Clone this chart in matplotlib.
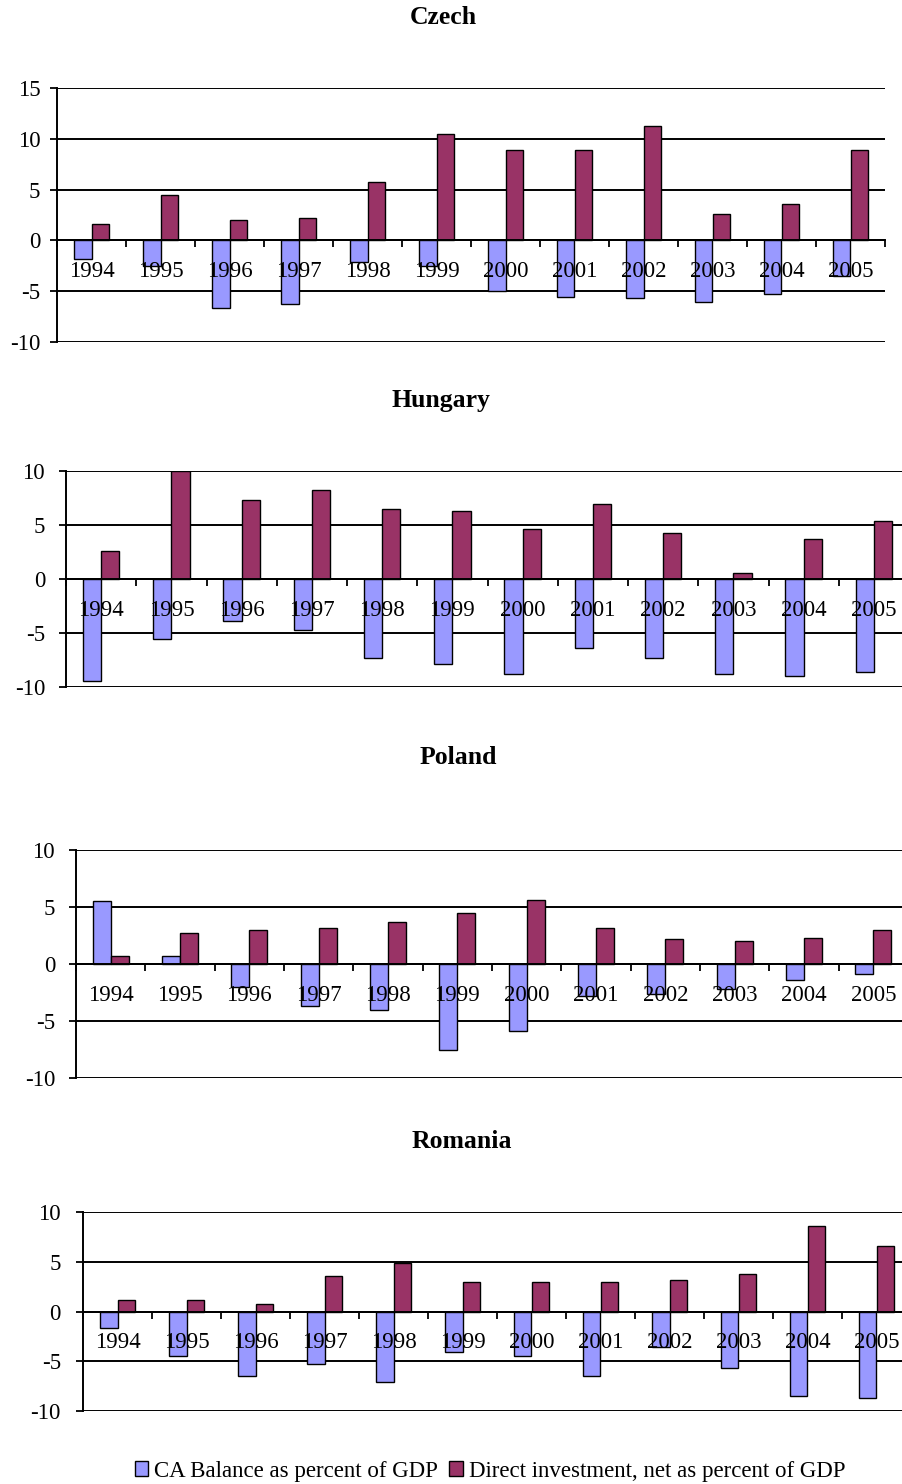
import numpy as np
import matplotlib.pyplot as plt
from matplotlib.patches import Patch

plt.rcParams['font.family'] = ['Liberation Serif', 'DejaVu Serif']
plt.rcParams['axes.unicode_minus'] = False

years = ['1994', '1995', '1996', '1997', '1998', '1999',
         '2000', '2001', '2002', '2003', '2004', '2005']

# current account balance, % of GDP
ca_czech = [-1.8, -2.5, -6.7, -6.3, -2.1, -2.5, -5.0, -5.6, -5.7, -6.1, -5.3, -3.5]
ca_hungary = [-9.4, -5.6, -3.9, -4.7, -7.3, -7.85, -8.8, -6.4, -7.3, -8.8, -9.0, -8.6]
ca_poland = [5.5, 0.7, -2.0, -3.7, -4.05, -7.55, -5.9, -2.8, -2.6, -2.2, -1.4, -0.9]
ca_romania = [-1.65, -4.5, -6.5, -5.3, -7.1, -4.05, -4.5, -6.5, -3.6, -5.65, -8.5, -8.65]

# direct investment, net, % of GDP
di_czech = [1.6, 4.5, 2.0, 2.2, 5.7, 10.5, 8.9, 8.9, 11.25, 2.6, 3.55, 8.9]
di_hungary = [2.6, 10.0, 7.3, 8.2, 6.5, 6.3, 4.65, 6.9, 4.3, 0.6, 3.7, 5.4]
di_poland = [0.67, 2.7, 3.0, 3.2, 3.65, 4.5, 5.65, 3.2, 2.2, 2.0, 2.3, 3.0]
di_romania = [1.2, 1.2, 0.8, 3.6, 4.9, 3.0, 3.0, 3.0, 3.2, 3.8, 8.6, 6.6]

blue = '#9999FF'
plum = '#993366'

W, H = 902, 1484
fig = plt.figure(figsize=(W / 100, H / 100), dpi=100)


def panel(box, title, tx, ty, ca, di, ymin, ymax, lpad):
    l, t, r, b = box
    ax = fig.add_axes([l / W, 1 - b / H, (r - l) / W, (b - t) / H])
    x = np.arange(len(years))
    w = 0.26
    ax.bar(x - w / 2, ca, w, color=blue, edgecolor='black', linewidth=1.0, zorder=1)
    ax.bar(x + w / 2, di, w, color=plum, edgecolor='black', linewidth=1.0, zorder=1)

    ax.set_xlim(-0.5, len(years) - 0.5)
    ax.set_ylim(ymin, ymax)
    yt = list(range(ymin, ymax + 1, 5))
    ax.set_yticks(yt)
    ax.set_yticklabels([str(v) for v in yt], fontsize=16.5)
    ax.yaxis.grid(True, color='black', linewidth=1.4)
    # gridlines behind the bars, year labels in front of them
    ax.yaxis.set_zorder(0.5)
    ax.xaxis.set_zorder(2.5)
    ax.tick_params(axis='y', direction='out', length=5, width=1.3, pad=lpad)

    # category labels sit just under the zero line, tick marks between groups
    ax.spines['bottom'].set_position(('data', 0))
    ax.spines['bottom'].set_linewidth(1.4)
    ax.spines['left'].set_linewidth(1.4)
    ax.spines['top'].set_visible(False)
    ax.spines['right'].set_visible(False)
    ax.set_xticks(np.arange(-0.5, len(years), 1.0))
    ax.set_xticklabels([])
    ax.set_xticks(x, minor=True)
    ax.set_xticklabels(years, minor=True, fontsize=16.5)
    ax.tick_params(axis='x', which='major', direction='out', length=5, width=1.3)
    ax.tick_params(axis='x', which='minor', length=0, pad=15)

    fig.text(tx / W, 1 - ty / H, title, ha='center', va='center',
             fontsize=18.5, fontweight='bold')
    return ax


panel((57, 88, 885, 342), 'Czech', 443, 17, ca_czech, di_czech, -10, 15, 7)
panel((66, 471, 909, 687), 'Hungary', 441, 401, ca_hungary, di_hungary, -10, 10, 10)
panel((76, 850, 908, 1078), 'Poland', 458, 757, ca_poland, di_poland, -10, 10, 10)
panel((83, 1212, 911, 1411), 'Romania', 462, 1141, ca_romania, di_romania, -10, 10, 11)

handles = [Patch(facecolor=blue, edgecolor='black', linewidth=1.0),
           Patch(facecolor=plum, edgecolor='black', linewidth=1.0)]
fig.legend(handles, ['CA Balance as percent of GDP',
                     'Direct investment, net as percent of GDP'],
           loc='center', bbox_to_anchor=(490 / W, 1 - 1471 / H), ncol=2,
           frameon=False, fontsize=16.5, handlelength=0.6, handleheight=0.6,
           handletextpad=0.25, columnspacing=0.5)

plt.savefig('out.png', dpi=100)
